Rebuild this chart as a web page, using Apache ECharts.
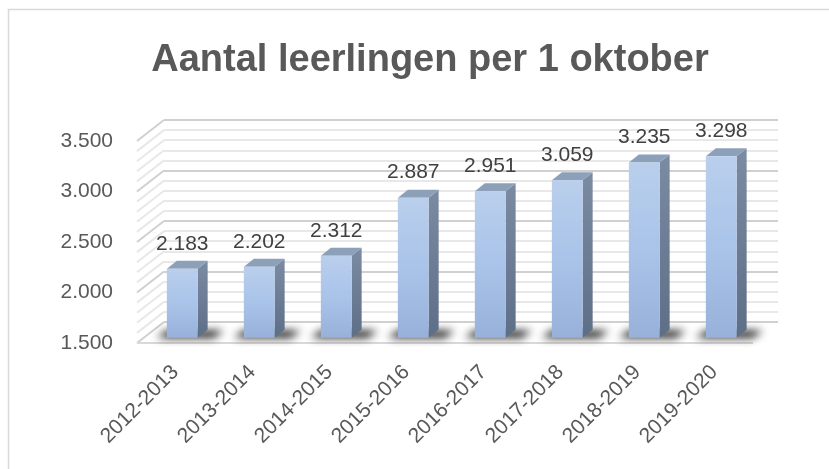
<!DOCTYPE html>
<html>
<head>
<meta charset="utf-8">
<script src="https://cdn.jsdelivr.net/npm/echarts@6/dist/echarts.min.js"></script>
<style>
  html, body { margin: 0; padding: 0; background: #fff; }
  #chart { width: 829px; height: 469px; }
</style>
</head>
<body>
<div id="chart"></div>
<script>
// schooljaren en aantal leerlingen per 1 oktober
const schooljaren = ['2012-2013', '2013-2014', '2014-2015', '2015-2016', '2016-2017', '2017-2018', '2018-2019', '2019-2020'];
const leerlingen = [2183, 2202, 2312, 2887, 2951, 3059, 3235, 3298];
const yMin = 1500;
const yMax = 3500;
const yStep = 500;
const minorStep = 100;

// 3D look: offset of the back wall and of the bar depth (pixels)
const DX = 27, DY = -21;
const BAR_DX = 10, BAR_DY = -8;
const BAR_DEPTH_POS = 0.25; // where the bar front sits between front and back
const FRONT = { left: 137, top: 141, width: 616, height: 202 };

const fmt = v => String(v).replace(/\B(?=(\d{3})+(?!\d))/g, '.');
const FONT = '"Liberation Sans", Arial, sans-serif';

const chart = echarts.init(document.getElementById('chart'));

function renderWalls(params, api) {
  const band = api.size([1, 0])[0];
  const left = api.coord([0, yMin])[0] - band / 2;
  const children = [];
  for (let v = yMin; v <= yMax; v += minorStep) {
    const y = api.coord([0, v])[1];
    const major = v % yStep === 0;
    children.push({
      type: 'line',
      shape: { x1: left, y1: y, x2: left + DX, y2: y + DY },
      style: { stroke: major ? '#d0d0d0' : '#e8e8e8', lineWidth: 2 }
    });
  }
  const yb = api.coord([0, yMin])[1];
  children.push({
    type: 'line',
    shape: { x1: left, y1: yb, x2: left + band * schooljaren.length, y2: yb },
    style: { stroke: '#d9d9d9', lineWidth: 2 }
  });
  return { type: 'group', children: children };
}

function renderBar(params, api) {
  const i = api.value(0);
  const v = api.value(1);
  const band = api.size([1, 0])[0];
  const bw = band * 0.4;
  const top = api.coord([i, v]);
  const base = api.coord([i, yMin]);
  const ox = DX * BAR_DEPTH_POS, oy = DY * BAR_DEPTH_POS;
  const x0 = top[0] - bw / 2 + ox, x1 = x0 + bw;
  const ty = top[1] + oy, by = base[1] + oy;
  const shift = 3000;
  return {
    type: 'group',
    children: [
      {
        // soft shadow on the floor (shape drawn off-screen, only its shadow shows)
        type: 'polygon',
        shape: { points: [[x0 - 10 - shift, by], [x1 + 16 - shift, by], [x1 + 26 - shift, by - 7], [x0 - shift, by - 7]] },
        style: { fill: '#000', shadowColor: 'rgba(0,0,0,0.95)', shadowBlur: 9, shadowOffsetX: shift, shadowOffsetY: 0 }
      },
      {
        type: 'polygon',
        shape: { points: [[x1, ty], [x1 + BAR_DX, ty + BAR_DY], [x1 + BAR_DX, by + BAR_DY], [x1, by]] },
        style: {
          fill: new echarts.graphic.LinearGradient(0, 0, 0, 1, [
            { offset: 0, color: '#7b8ba2' }, { offset: 1, color: '#5d6e87' }
          ])
        }
      },
      {
        type: 'polygon',
        shape: { points: [[x0, ty], [x0 + BAR_DX, ty + BAR_DY], [x1 + BAR_DX, ty + BAR_DY], [x1, ty]] },
        style: { fill: '#8ca0ba' }
      },
      {
        type: 'rect',
        shape: { x: x0, y: ty, width: bw, height: by - ty },
        style: {
          fill: new echarts.graphic.LinearGradient(0, 0, 0, 1, [
            { offset: 0, color: '#b9cfec' }, { offset: 0.5, color: '#a9c3e9' }, { offset: 1, color: '#97b1da' }
          ])
        }
      },
      {
        type: 'text',
        style: {
          text: fmt(v), x: x0 + bw / 2, y: ty - 25,
          align: 'center', verticalAlign: 'middle',
          fill: '#404040', font: '21px ' + FONT
        }
      }
    ]
  };
}

const option = {
  animation: false,
  backgroundColor: '#fff',
  title: {
    text: 'Aantal leerlingen per 1 oktober',
    left: 425, top: 37,
    textAlign: 'center',
    textStyle: { color: '#595959', fontSize: 38, fontWeight: 'bold', fontFamily: FONT }
  },
  graphic: [{
    type: 'rect', silent: true, z: -10,
    shape: { x: 8.5, y: 9.5, width: 900, height: 600 },
    style: { fill: 'none', stroke: '#d9d9d9', lineWidth: 1.5 }
  }],
  grid: [
    FRONT,
    { left: FRONT.left + DX, top: FRONT.top + DY, width: FRONT.width - 2, height: FRONT.height }
  ],
  xAxis: [
    {
      gridIndex: 0, type: 'category', data: schooljaren,
      axisLine: { show: false }, axisTick: { show: false },
      axisLabel: { rotate: 45, margin: 26, color: '#595959', fontSize: 21, fontFamily: FONT }
    },
    { gridIndex: 1, type: 'category', data: schooljaren, show: false }
  ],
  yAxis: [
    {
      gridIndex: 0, type: 'value', min: yMin, max: yMax, interval: yStep,
      axisLine: { show: false }, axisTick: { show: false }, splitLine: { show: false },
      axisLabel: { margin: 24, color: '#595959', fontSize: 21, fontFamily: FONT, formatter: fmt }
    },
    {
      gridIndex: 1, type: 'value', min: yMin, max: yMax, interval: yStep,
      axisLine: { show: false }, axisTick: { show: false }, axisLabel: { show: false },
      splitLine: { show: true, lineStyle: { color: '#d0d0d0', width: 2 } },
      minorTick: { show: false, splitNumber: yStep / minorStep },
      minorSplitLine: { show: true, lineStyle: { color: '#e8e8e8', width: 2 } }
    }
  ],
  series: [
    {
      name: 'wanden', type: 'custom', xAxisIndex: 0, yAxisIndex: 0, z: 1, silent: true,
      renderItem: renderWalls, data: [[0, yMin]]
    },
    {
      name: 'leerlingen', type: 'custom', xAxisIndex: 0, yAxisIndex: 0, z: 5,
      renderItem: renderBar,
      data: leerlingen.map((v, i) => [i, v])
    }
  ]
};

chart.setOption(option);
</script>
</body>
</html>
